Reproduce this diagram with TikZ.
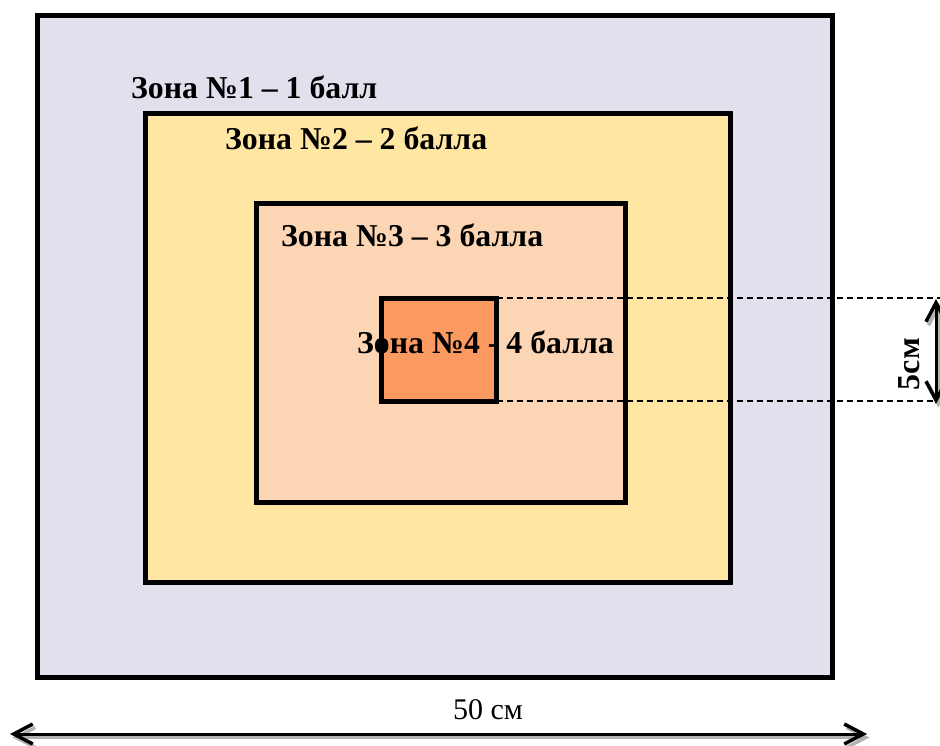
\documentclass[tikz,border=0pt]{standalone}
\usepackage{fontspec}
\setmainfont{Liberation Serif}
\usetikzlibrary{arrows.meta}

\definecolor{zoneone}{HTML}{E4DFEC}
\definecolor{zonetwo}{HTML}{FFE6A3}
\definecolor{zonethree}{HTML}{FCD5B5}
\definecolor{zonefour}{HTML}{FB9A60}

\tikzset{
  zone/.style = {draw=black, line width=5pt, inner sep=0pt, outer sep=0pt},
  zonelabel/.style = {anchor=base west, inner sep=0pt, font=\fontsize{31.8}{36}\selectfont\bfseries},
  guide/.style = {black, line width=1.3pt, dash pattern=on 6pt off 4pt},
  dimarrow/.style = {line width=3pt, {Straight Barb[length=19pt,width=20pt,line width=3.5pt]}-{Straight Barb[length=19pt,width=20pt,line width=3.5pt]}},
  dimshadow/.style = {dimarrow, gray!60, transform canvas={shift={(2.5pt,-3.5pt)}}}
}

\begin{document}
\begin{tikzpicture}[x=1pt, y=-1pt]
\useasboundingbox (0,0) rectangle (940,746);

% the four zones, from the outside in
\path[zone, fill=zoneone] (37.5,16) rectangle (832,677);
\path[zone, fill=zonetwo] (145.5,113.5) rectangle (730.5,582);
\path[zone, fill=zonethree] (256.5,203.5) rectangle (625.5,502.5);
\node[zone, fill=zonefour, minimum width=115pt, minimum height=103pt] (zfour) at (439,349.5) {};

% labels
\node[zonelabel] (lone) at (131,99) {Зона №1 – 1 балл};
\node[zonelabel] (ltwo) at (225,150) {Зона №2 – 2 балла};
\node[zonelabel] (lthree) at (281,247) {Зона №3 – 3 балла};
\node[zonelabel] (lfour) at (357,353) {Зона №4 - 4 балла};

% 5 cm
\coordinate (redge) at (945,0);
\coordinate (gtop) at (zfour.north east -| redge);
\coordinate (gbot) at (zfour.south east -| redge);
\draw[guide] (zfour.north east) -- (gtop);
\draw[guide] (zfour.south east) -- (gbot);
\coordinate (vtop) at (936,299);
\coordinate (vbot) at (936,404);
\draw[dimshadow] (vtop) -- (vbot);
\draw[dimarrow] (vtop) -- (vbot);
\node[rotate=90, inner sep=0pt, font=\fontsize{32}{36}\selectfont\bfseries] (lfive) at (909,364) {5см};

% 50 cm
\coordinate (hleft) at (10,734);
\coordinate (hright) at (867,734);
\draw[dimshadow] (hleft) -- (hright);
\draw[dimarrow] (hleft) -- (hright);
\node[anchor=base, inner sep=0pt, font=\fontsize{30}{34}\selectfont] (lfifty) at (488,719) {50 см};
\end{tikzpicture}
\end{document}
